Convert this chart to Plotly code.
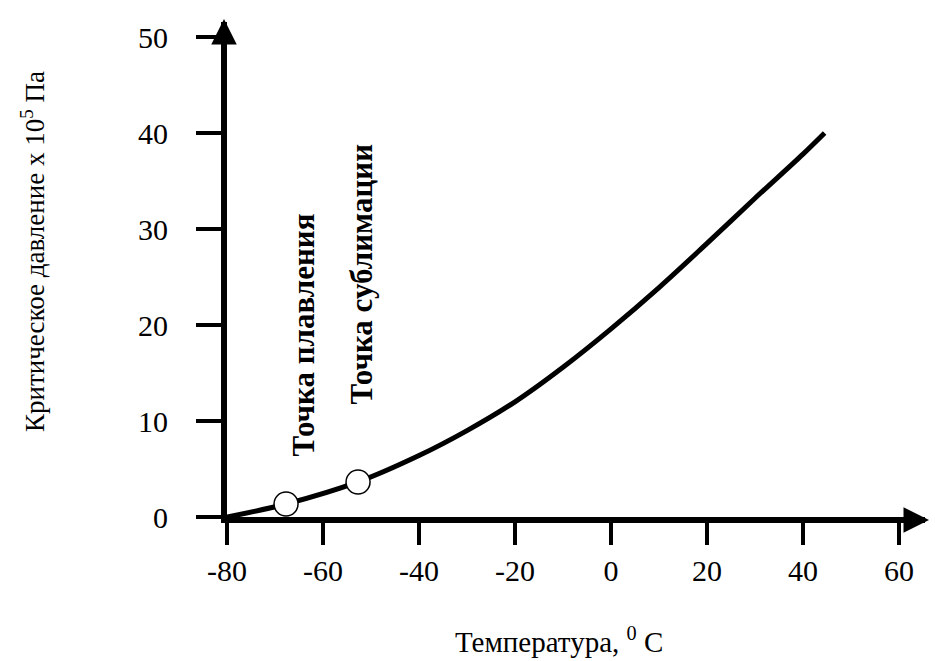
import plotly.graph_objects as go

# Data
temperature = [-80, -67.7, -52.7, -40, -30, -20, -10, 0, 10, 20, 30, 40, 44.5]
pressure = [0, 1.35, 3.65, 6.4, 9.0, 12.0, 15.6, 19.6, 23.9, 28.5, 33.2, 37.8, 40.0]

point_temp = [-67.7, -52.7]
point_pressure = [1.35, 3.65]
point_labels = ["Точка плавления", "Точка сублимации"]
label_x = [-64.0, -52.0]
label_y = [19.0, 25.3]

x_ticks = [-80, -60, -40, -20, 0, 20, 40, 60]
y_ticks = [0, 10, 20, 30, 40, 50]

FONT = "Liberation Serif"

W, H = 935, 661
L, R, T, B = 227, 10, 22, 144
xscale = 4.8
yscale = 9.6
PW, PH = W - L - R, H - T - B
xmax = -80 + PW / xscale
ymax = PH / yscale

def px_to_paper_x(px):
    return (px - L) / PW

def px_to_paper_y(py):
    return (H - B - py) / PH

fig = go.Figure()
fig.add_trace(go.Scatter(
    x=temperature, y=pressure, mode="lines",
    line=dict(color="black", width=5, shape="spline", smoothing=1.0),
    cliponaxis=False, showlegend=False, hoverinfo="skip"))
fig.add_trace(go.Scatter(
    x=point_temp, y=point_pressure, mode="markers",
    marker=dict(size=24, color="white", line=dict(color="black", width=1.5)),
    cliponaxis=False, showlegend=False))

annotations = []
for t, lx, ly in zip(point_labels, label_x, label_y):
    annotations.append(dict(x=lx, y=ly, xref="x", yref="y", text="<b>" + t + "</b>",
                            showarrow=False, textangle=-90,
                            font=dict(family=FONT, size=31, color="black"),
                            xanchor="center", yanchor="middle"))
# axis arrows
annotations.append(dict(x=px_to_paper_x(224), y=px_to_paper_y(19), xref="paper", yref="paper",
                        ax=0, ay=28, showarrow=True, arrowhead=2, arrowwidth=6, arrowsize=0.85,
                        arrowcolor="black", text=""))
annotations.append(dict(x=px_to_paper_x(929), y=px_to_paper_y(520), xref="paper", yref="paper",
                        ax=-28, ay=0, showarrow=True, arrowhead=2, arrowwidth=6, arrowsize=0.85,
                        arrowcolor="black", text=""))
# axis titles
annotations.append(dict(x=px_to_paper_x(33), y=px_to_paper_y(252), xref="paper", yref="paper",
                        text="Критическое давление х 10<sup>5</sup> Па", textangle=-90,
                        showarrow=False, font=dict(family=FONT, size=27, color="black"),
                        xanchor="center", yanchor="middle"))
annotations.append(dict(x=px_to_paper_x(559), y=px_to_paper_y(640), xref="paper", yref="paper",
                        text="Температура, <sup>0</sup> С",
                        showarrow=False, font=dict(family=FONT, size=29, color="black"),
                        xanchor="center", yanchor="middle"))

fig.update_layout(
    width=W, height=H,
    margin=dict(l=L, r=R, t=T, b=B, pad=0),
    paper_bgcolor="white", plot_bgcolor="white",
    annotations=annotations,
    xaxis=dict(range=[-80, xmax], tickvals=x_ticks, ticktext=[str(v) for v in x_ticks],
               showgrid=False, zeroline=False, showline=True, linewidth=6, linecolor="black",
               ticks="outside", ticklen=22, tickwidth=4, tickcolor="black",
               ticklabelstandoff=0,
               tickfont=dict(family=FONT, size=30, color="black")),
    yaxis=dict(range=[0, ymax], tickvals=y_ticks, ticktext=[str(v) for v in y_ticks],
               showgrid=False, zeroline=False, showline=True, linewidth=6, linecolor="black",
               ticks="outside", ticklen=25, tickwidth=4, tickcolor="black",
               ticklabelstandoff=22,
               tickfont=dict(family=FONT, size=30, color="black")),
)

fig.write_html("out.html")
